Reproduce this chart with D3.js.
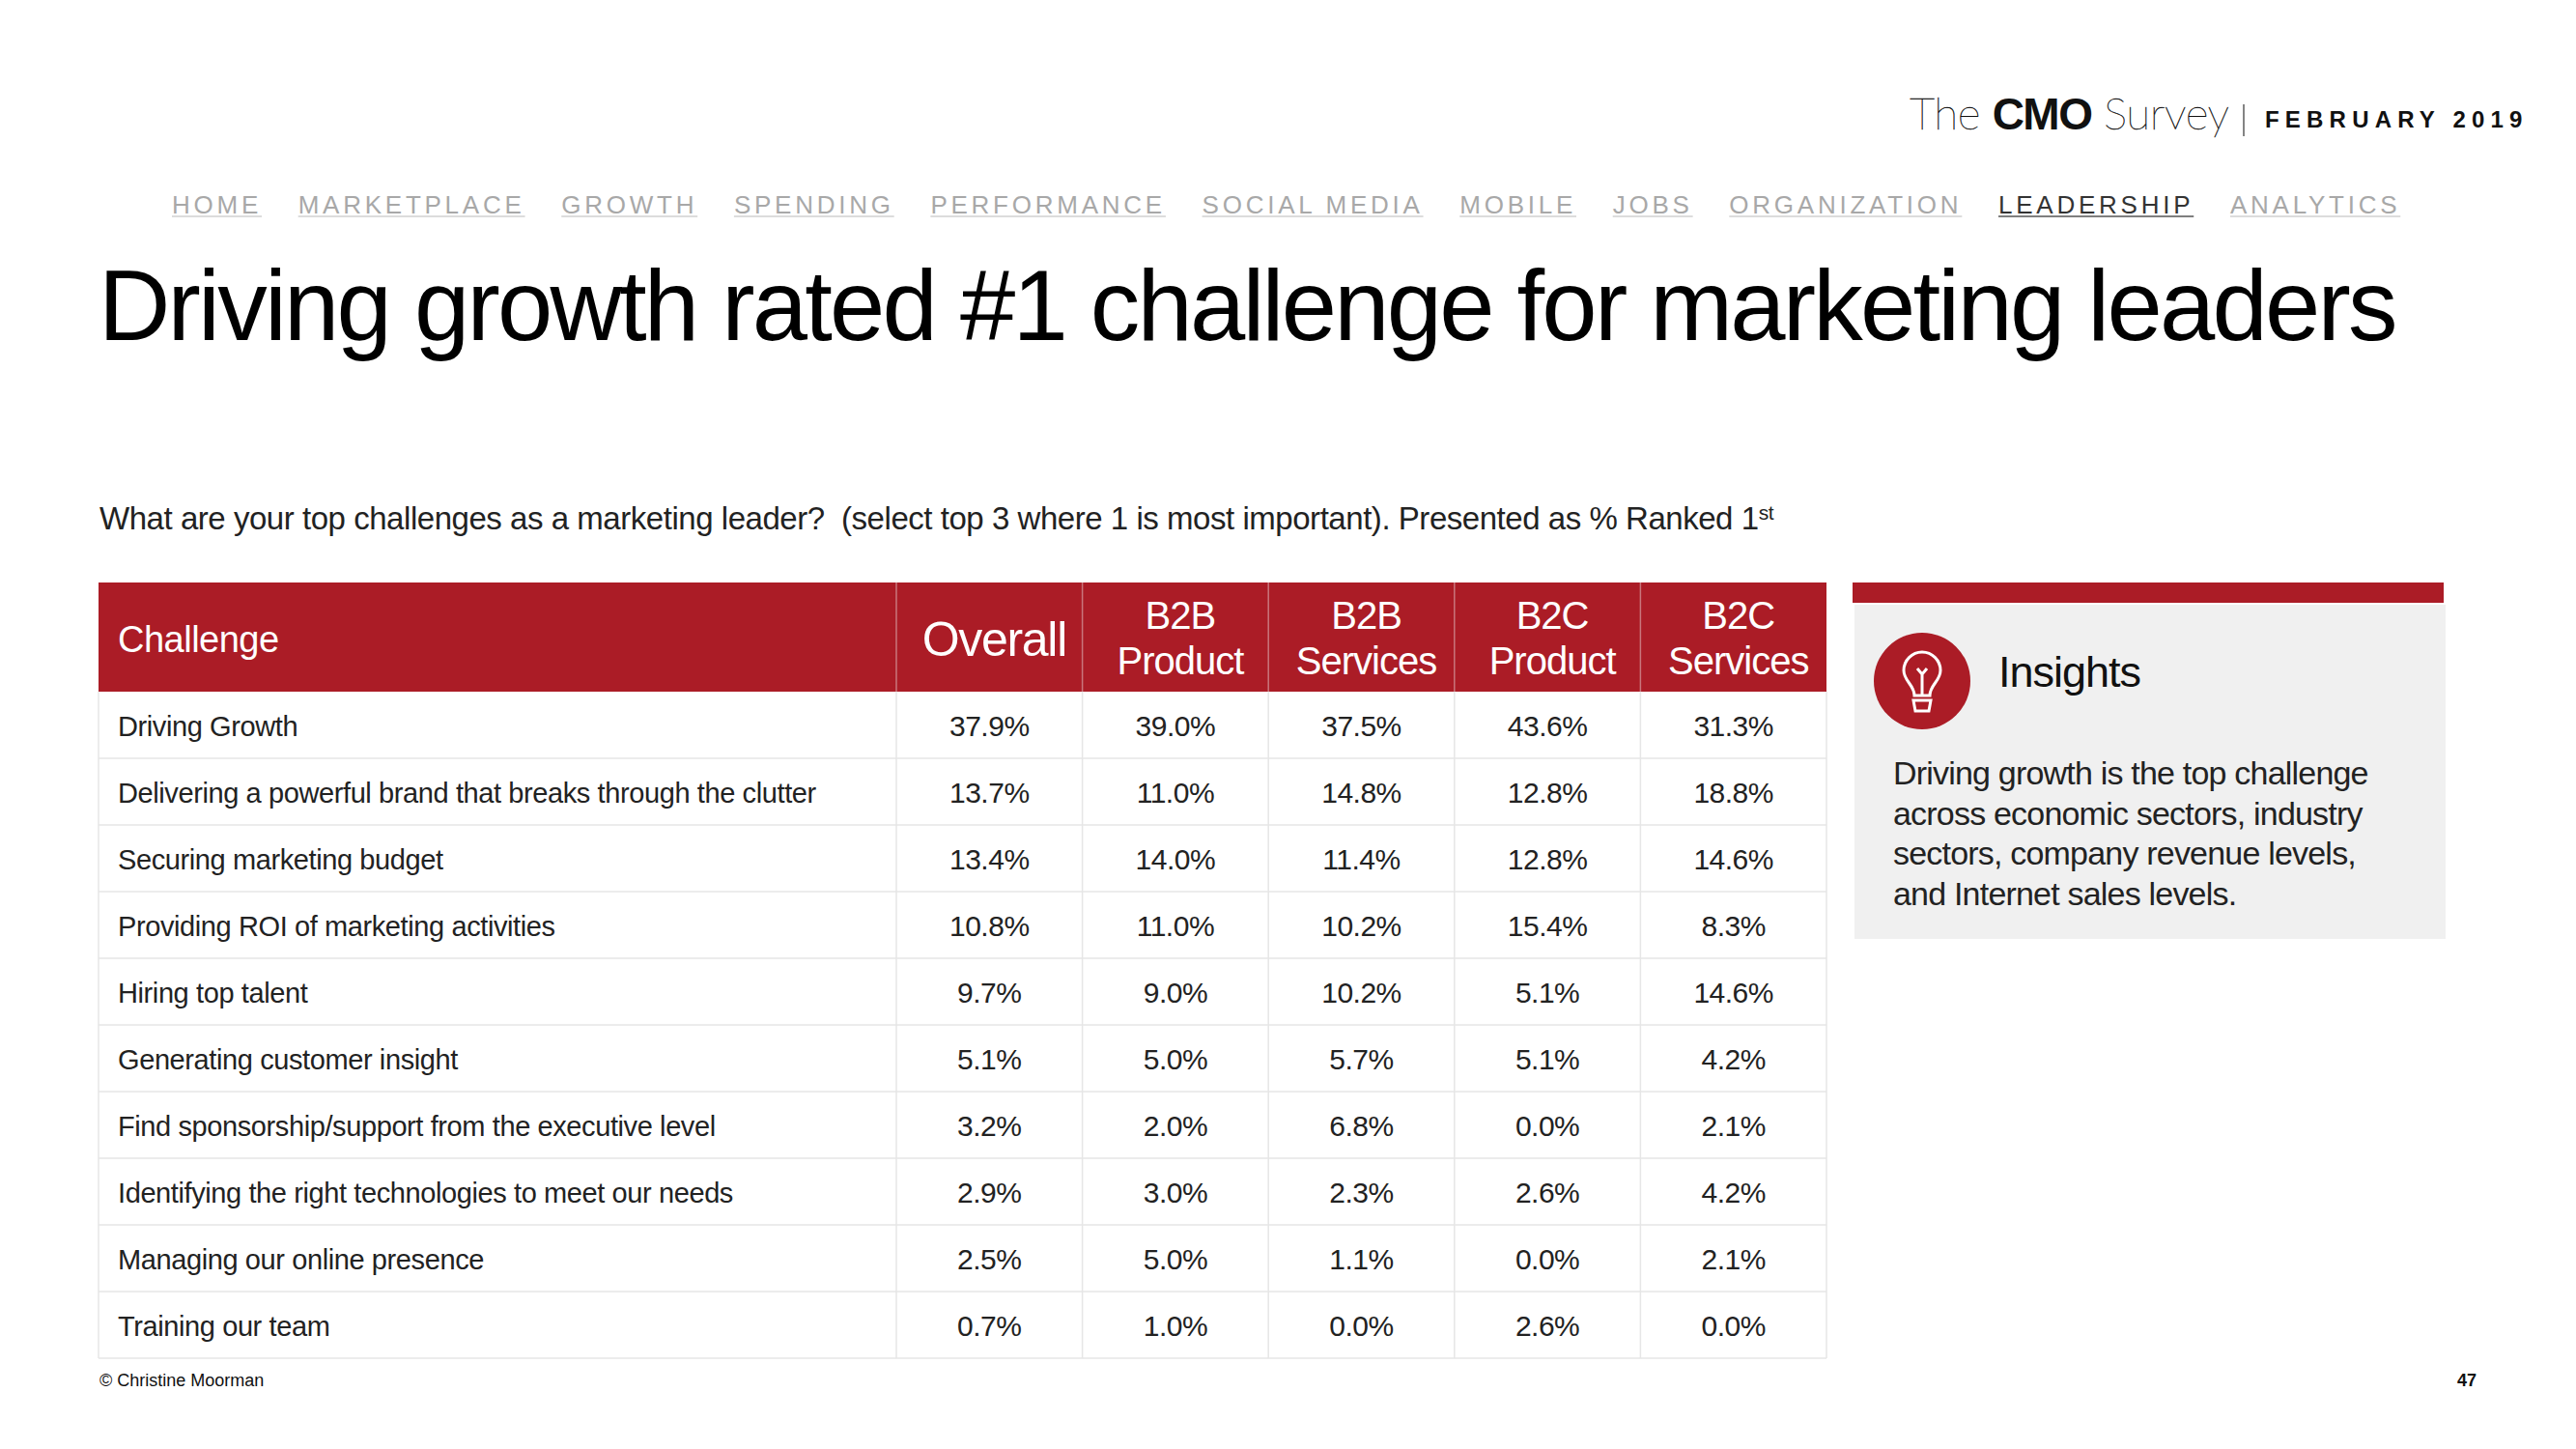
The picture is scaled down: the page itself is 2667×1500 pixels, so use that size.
<!DOCTYPE html>
<html>
<head>
<meta charset="utf-8">
<style>
  html, body {margin: 0; padding: 0; background: #fff;}
  svg {display: block;}
  text {font-family: "Liberation Sans", Arial, sans-serif;}
</style>
</head>
<body>
<script src="https://cdn.jsdelivr.net/npm/d3@7"></script>
<script>

  const navItems = ['HOME', 'MARKETPLACE', 'GROWTH', 'SPENDING', 'PERFORMANCE', 'SOCIAL MEDIA',
                    'MOBILE', 'JOBS', 'ORGANIZATION', 'LEADERSHIP', 'ANALYTICS']
  const activeNav = 'LEADERSHIP'

  const titleText = 'Driving growth rated #1 challenge for marketing leaders'
  const questionText = 'What are your top challenges as a marketing leader?\u00a0 (select top 3 where 1 is most important). Presented as % Ranked 1'

  const challenges = ['Driving Growth',
                      'Delivering a powerful brand that breaks through the clutter',
                      'Securing marketing budget',
                      'Providing ROI of marketing activities',
                      'Hiring top talent',
                      'Generating customer insight',
                      'Find sponsorship/support from the executive level',
                      'Identifying the right technologies to meet our needs',
                      'Managing our online presence',
                      'Training our team']

  const columns = [['Overall'], ['B2B', 'Product'], ['B2B', 'Services'], ['B2C', 'Product'], ['B2C', 'Services']]

  const overall    = [37.9, 13.7, 13.4, 10.8, 9.7, 5.1, 3.2, 2.9, 2.5, 0.7]
  const b2bProduct = [39.0, 11.0, 14.0, 11.0, 9.0, 5.0, 2.0, 3.0, 5.0, 1.0]
  const b2bService = [37.5, 14.8, 11.4, 10.2, 10.2, 5.7, 6.8, 2.3, 1.1, 0.0]
  const b2cProduct = [43.6, 12.8, 12.8, 15.4, 5.1, 5.1, 0.0, 2.6, 0.0, 2.6]
  const b2cService = [31.3, 18.8, 14.6, 8.3, 14.6, 4.2, 2.1, 4.2, 2.1, 0.0]
  const series = [overall, b2bProduct, b2bService, b2cProduct, b2cService]

  const insightLines = ['Driving growth is the top challenge',
                        'across economic sectors, industry',
                        'sectors, company revenue levels,',
                        'and Internet sales levels.']

  const colors = {red: '#ab1c26', grid: '#e6e6e6', panel: '#f0f0f0', nav: '#a8a8a8', text: '#222'}

  const table = {left: 102, right: 1891, top: 603, head: 716, bottom: 1406, labelW: 826}

  const svg = d3.select('body').append('svg')
      .attr('width', 2667)
      .attr('height', 1500)

  const xCol = d3.scaleBand()
    .domain(d3.range(columns.length))
    .range([table.left + table.labelW, table.right])
  const yRow = d3.scaleBand()
    .domain(challenges)
    .range([table.head, table.bottom])
  const fmt = d => d3.format('.1f')(d) + '%'

  // logo + date
  const logo = svg.append('text')
      .attr('x', 1977)
      .attr('y', 134)
      .style('font-size', '46px')
      .style('letter-spacing', '-0.5px')
      .style('fill', '#111')
  logo.append('tspan').style('font-family', 'Lato').style('font-weight', 100).style('stroke', '#111').style('stroke-width', 0.4).text('The ')
  logo.append('tspan').style('font-weight', 700).style('letter-spacing', '-1.5px').text('CMO')
  logo.append('tspan').style('font-family', 'Lato').style('font-weight', 100).style('stroke', '#111').style('stroke-width', 0.4).text(' Survey')

  svg.append('line')
      .attr('x1', 2323).attr('x2', 2323)
      .attr('y1', 108).attr('y2', 141)
      .style('stroke', '#333').style('stroke-width', 1.2)

  svg.append('text')
      .attr('x', 2345)
      .attr('y', 132)
      .style('font-size', '24px')
      .style('font-weight', 700)
      .style('letter-spacing', '6.2px')
      .style('fill', '#111')
      .text('FEBRUARY 2019')

  // nav, laid out by measured width
  let navX = 178
  navItems.forEach(name => {
    const active = name === activeNav
    const t = svg.append('text')
        .attr('x', navX)
        .attr('y', 221)
        .style('font-size', '26px')
        .style('letter-spacing', '3.75px')
        .style('fill', active ? '#333' : colors.nav)
        .text(name)
    const w = t.node().getComputedTextLength()
    svg.append('line')
        .attr('x1', navX).attr('x2', navX + w)
        .attr('y1', 224).attr('y2', 224)
        .style('stroke', active ? '#555' : '#d0d0d0')
        .style('stroke-width', 1.5)
    navX += w + 37.7
  })

  svg.append('text')
      .attr('x', 102)
      .attr('y', 352)
      .style('font-size', '103px')
      .style('letter-spacing', '-2.78px')
      .style('fill', '#000')
      .text(titleText)

  const question = svg.append('text')
      .attr('x', 103)
      .attr('y', 548)
      .style('font-size', '33px')
      .style('letter-spacing', '-0.46px')
      .style('fill', colors.text)
      .text(questionText)
  question.append('tspan')
      .attr('dy', -10)
      .style('font-size', '21px')
      .text('st')

  // table header
  svg.append('rect')
      .attr('x', table.left)
      .attr('y', table.top)
      .attr('width', table.right - table.left)
      .attr('height', table.head - table.top)
      .style('fill', colors.red)

  svg.append('text')
      .attr('x', 122)
      .attr('y', 675)
      .style('font-size', '38px')
      .style('letter-spacing', '-0.5px')
      .style('fill', '#fff')
      .text('Challenge')

  const headCells = svg.selectAll('.head')
      .data(columns)
      .enter().append('g')
      .attr('class', 'head')
      .attr('transform', (d, i) => `translate(${xCol(i) + xCol.bandwidth() / 2 + 5}, 0)`)

  headCells.selectAll('text')
      .data(d => d.map((s, i) => ({s, i, n: d.length})))
      .enter().append('text')
      .attr('y', d => d.n === 1 ? 679 : 651 + d.i * 47)
      .style('text-anchor', 'middle')
      .style('font-size', d => d.n === 1 ? '50px' : '40px')
      .style('letter-spacing', d => d.n === 1 ? '-1.3px' : '-1px')
      .style('fill', '#fff')
      .text(d => d.s)

  // grid
  const vLines = [table.left, ...xCol.domain().map(i => xCol(i)), table.right]
  svg.selectAll('.vline')
      .data(vLines)
      .enter().append('line')
      .attr('class', 'vline')
      .attr('x1', d => d).attr('x2', d => d)
      .attr('y1', table.head).attr('y2', table.bottom)
      .style('stroke', colors.grid).style('stroke-width', 1.5)

  svg.selectAll('.vhead')
      .data(vLines.slice(1, -1))
      .enter().append('line')
      .attr('class', 'vhead')
      .attr('x1', d => d).attr('x2', d => d)
      .attr('y1', table.top).attr('y2', table.head)
      .style('stroke', '#c9767c').style('stroke-width', 1.5)

  svg.selectAll('.hline')
      .data(challenges)
      .enter().append('line')
      .attr('class', 'hline')
      .attr('x1', table.left).attr('x2', table.right)
      .attr('y1', d => yRow(d) + yRow.bandwidth())
      .attr('y2', d => yRow(d) + yRow.bandwidth())
      .style('stroke', colors.grid).style('stroke-width', 1.5)

  // rows
  svg.selectAll('.rowLabel')
      .data(challenges)
      .enter().append('text')
      .attr('class', 'rowLabel')
      .attr('x', 122)
      .attr('y', d => yRow(d) + yRow.bandwidth() / 2 + 11)
      .style('font-size', '29px')
      .style('letter-spacing', '-0.4px')
      .style('fill', colors.text)
      .text(d => d)

  series.forEach((values, c) => {
    svg.selectAll(`.val${c}`)
        .data(values)
        .enter().append('text')
        .attr('class', `val${c}`)
        .attr('x', xCol(c) + xCol.bandwidth() / 2)
        .attr('y', (d, i) => yRow(challenges[i]) + yRow.bandwidth() / 2 + 11)
        .style('text-anchor', 'middle')
        .style('font-size', '30px')
        .style('letter-spacing', '-0.5px')
        .style('fill', colors.text)
        .text(fmt)
  })

  // insights panel
  svg.append('rect')
      .attr('x', 1920).attr('y', 626)
      .attr('width', 612).attr('height', 346)
      .style('fill', colors.panel)
  svg.append('rect')
      .attr('x', 1918).attr('y', 603)
      .attr('width', 612).attr('height', 21)
      .style('fill', colors.red)

  const icon = svg.append('g').attr('transform', 'translate(1990, 705)')
  icon.append('ellipse')
      .attr('rx', 50).attr('ry', 50)
      .style('fill', colors.red)
  icon.append('path')
      .attr('d', 'M-8,15 C-8,4 -19,0 -19,-11 A19,19 0 1 1 19,-11 C19,0 8,4 8,15 Z M0,15 V-8 M-5,-13 L0,-7 L5,-13')
      .style('fill', 'none')
      .style('stroke', '#fff')
      .style('stroke-width', 3)
  icon.append('path')
      .attr('d', 'M-9,20 H9 L7,31 H-7 Z')
      .style('fill', 'none')
      .style('stroke', '#fff')
      .style('stroke-width', 3)

  svg.append('text')
      .attr('x', 2069)
      .attr('y', 711)
      .style('font-size', '45px')
      .style('letter-spacing', '-1px')
      .style('fill', '#111')
      .text('Insights')

  svg.selectAll('.insight')
      .data(insightLines)
      .enter().append('text')
      .attr('class', 'insight')
      .attr('x', 1960)
      .attr('y', (d, i) => 812 + i * 41.6)
      .style('font-size', '34px')
      .style('letter-spacing', '-0.8px')
      .style('fill', colors.text)
      .text(d => d)

  // footer
  svg.append('text')
      .attr('x', 103)
      .attr('y', 1435)
      .style('font-size', '18px')
      .style('fill', '#111')
      .text('© Christine Moorman')

  svg.append('text')
      .attr('x', 2564)
      .attr('y', 1435)
      .style('font-size', '18px')
      .style('font-weight', 700)
      .style('text-anchor', 'end')
      .style('fill', '#111')
      .text('47')

</script>
</body>
</html>
